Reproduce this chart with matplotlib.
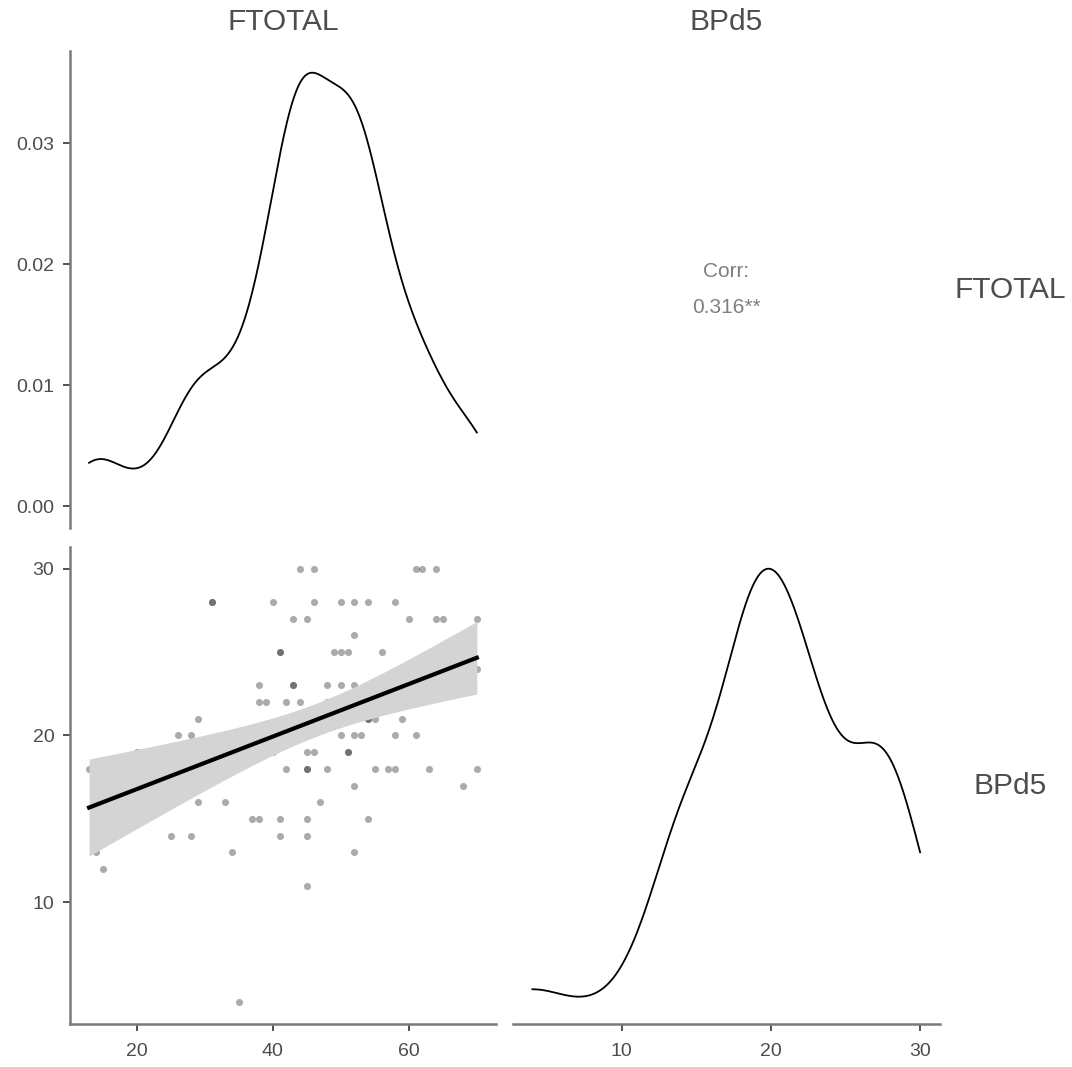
import numpy as np
import matplotlib
matplotlib.use("Agg")
import matplotlib.pyplot as plt

plt.rcParams['font.family'] = ['Liberation Sans', 'DejaVu Sans']

# paired observations, read row by row (BPd5 value, then the FTOTAL values at that level)
bpd5_levels = [30, 28, 27, 26, 25, 24, 23, 22, 21, 20, 19, 18, 17, 16, 15, 14, 13, 12, 11, 4]
ftotal_at_level = [
    [44, 46, 61, 62, 64],
    [31, 31, 40, 46, 50, 52, 54, 58],
    [43, 45, 60, 64, 65, 70],
    [52],
    [41, 41, 49, 50, 51, 56],
    [70],
    [38, 43, 43, 48, 50, 52, 54],
    [38, 39, 42, 44, 48, 55],
    [29, 44, 50, 54, 54, 55, 59],
    [26, 28, 43, 45, 50, 52, 53, 58, 61],
    [20, 40, 45, 46, 51, 51],
    [13, 34, 42, 45, 45, 48, 55, 57, 58, 63, 70],
    [52, 68],
    [29, 33, 47],
    [37, 38, 41, 45, 54],
    [25, 28, 41, 45],
    [14, 34, 52],
    [15],
    [45],
    [35],
]
corr_label = "Corr:\n0.316**"
var_names = ["FTOTAL", "BPd5"]
dens_ticks = [0.00, 0.01, 0.02, 0.03]
ftotal_ticks = [20, 40, 60]
bpd5_ticks = [10, 20, 30]

ftotal = np.array([v for row in ftotal_at_level for v in row], dtype=float)
bpd5 = np.array([lv for lv, row in zip(bpd5_levels, ftotal_at_level) for _ in row], dtype=float)


def kde(x, n=512):
    # gaussian density with R's bw.nrd0
    q75, q25 = np.percentile(x, [75, 25])
    bw = 0.9 * min(x.std(ddof=1), (q75 - q25) / 1.34) * len(x) ** -0.2
    grid = np.linspace(x.min(), x.max(), n)
    d = np.exp(-0.5 * ((grid[:, None] - x[None, :]) / bw) ** 2).sum(1)
    return grid, d / (len(x) * bw * np.sqrt(2 * np.pi))


def expand(lo, hi, f=0.05):
    r = hi - lo
    return lo - f * r, hi + f * r


W, H = 1072, 1067
fig = plt.figure(figsize=(W / 100, H / 100), dpi=100)
col_l = [69.7 / W, 513 / W]
col_w = 426.5 / W
row_b = [1 - 528 / H, 1 - 1024 / H]
row_h = 477 / H

spine_c = '#7a7a7a'
tick_c = '#333333'
lab_c = '#4d4d4d'


def style(ax, left, bottom):
    for s in ax.spines.values():
        s.set_visible(False)
    ax.tick_params(colors=tick_c, labelcolor=lab_c, labelsize=14, length=5, width=1.2)
    ax.tick_params(axis='y', pad=6)
    ax.tick_params(axis='x', pad=9)
    if left:
        ax.spines['left'].set_visible(True)
        ax.spines['left'].set_color(spine_c)
        ax.spines['left'].set_linewidth(1.8)
    else:
        ax.tick_params(left=False, labelleft=False)
    if bottom:
        ax.spines['bottom'].set_visible(True)
        ax.spines['bottom'].set_color(spine_c)
        ax.spines['bottom'].set_linewidth(1.8)
    else:
        ax.tick_params(bottom=False, labelbottom=False)


xl1 = expand(ftotal.min(), ftotal.max())
xl2 = expand(bpd5.min(), bpd5.max())

# top-left: FTOTAL density
ax11 = fig.add_axes([col_l[0], row_b[0], col_w, row_h])
g, d = kde(ftotal)
ax11.plot(g, d, color='black', lw=1.3)
ax11.set_xlim(*xl1)
ax11.set_ylim(*expand(0, d.max()))
ax11.set_yticks(dens_ticks)
ax11.set_yticklabels([f"{t:.2f}" for t in dens_ticks])
style(ax11, True, False)

# top-right: correlation text
ax12 = fig.add_axes([col_l[1], row_b[0], col_w, row_h])
ax12.axis('off')
ax12.text(0.5, 0.5, corr_label, ha='center', va='center', fontsize=15,
          color='#7f7f7f', linespacing=2.1, transform=ax12.transAxes)

# bottom-left: scatter with lm fit
ax21 = fig.add_axes([col_l[0], row_b[1], col_w, row_h])
ax21.scatter(ftotal, bpd5, s=26, color='black', alpha=0.33, linewidths=0, zorder=2)
b1, b0 = np.polyfit(ftotal, bpd5, 1)
xs = np.linspace(ftotal.min(), ftotal.max(), 80)
fit = b0 + b1 * xs
n = len(ftotal)
resid = bpd5 - (b0 + b1 * ftotal)
s = np.sqrt((resid ** 2).sum() / (n - 2))
se = s * np.sqrt(1 / n + (xs - ftotal.mean()) ** 2 / ((ftotal - ftotal.mean()) ** 2).sum())
tq = 1.986
ax21.fill_between(xs, fit - tq * se, fit + tq * se, color='#d4d4d4', lw=0, zorder=3)
ax21.plot(xs, fit, color='black', lw=3, zorder=4)
ax21.set_xlim(*xl1)
ax21.set_ylim(*xl2)
ax21.set_xticks(ftotal_ticks)
ax21.set_yticks(bpd5_ticks)
style(ax21, True, True)

# bottom-right: BPd5 density
ax22 = fig.add_axes([col_l[1], row_b[1], col_w, row_h])
g2, d2 = kde(bpd5)
ax22.plot(g2, d2, color='black', lw=1.3)
ax22.set_xlim(*xl2)
ax22.set_ylim(*expand(0, d2.max()))
ax22.set_xticks(bpd5_ticks)
style(ax22, False, True)

# strip labels
for i, name in enumerate(var_names):
    fig.text(col_l[i] + col_w / 2, 1 - 22 / H, name, ha='center', va='center',
             fontsize=21.5, color=lab_c)
    fig.text(1010 / W, row_b[i] + row_h / 2, name, ha='center', va='center',
             fontsize=21.5, color=lab_c)

fig.savefig('out.png', dpi=100)
